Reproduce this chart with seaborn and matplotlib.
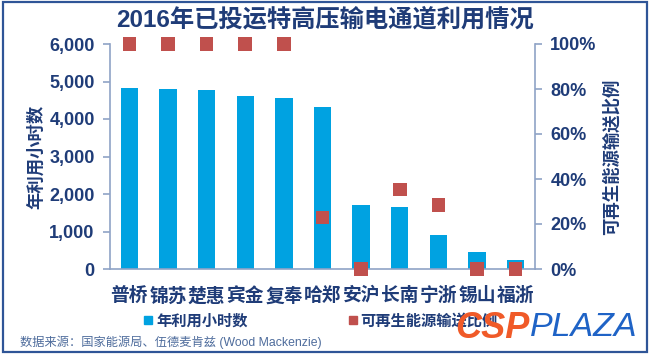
import numpy as np
import pandas as pd
import matplotlib
matplotlib.use("Agg")
import matplotlib.pyplot as plt
from matplotlib.lines import Line2D
from matplotlib.patches import Rectangle
from matplotlib.ticker import FuncFormatter, PercentFormatter
import seaborn as sns

# ---- data ----
categories = ['普桥', '锦苏', '楚惠', '宾金', '复奉', '哈郑', '安沪', '长南', '宁浙', '锡山', '福浙']
hours = [4830, 4800, 4770, 4620, 4550, 4310, 1700, 1660, 920, 460, 245]
renew_share = [1.00, 1.00, 1.00, 1.00, 1.00, 0.228, 0.0, 0.354, 0.284, 0.0, 0.0]
left_ticks = [0, 1000, 2000, 3000, 4000, 5000, 6000]
right_ticks = [0, 0.2, 0.4, 0.6, 0.8, 1.0]
title = '2016年已投运特高压输电通道利用情况'
left_label = '年利用小时数'
right_label = '可再生能源输送比例'
source = '数据来源：国家能源局、伍德麦肯兹 (Wood Mackenzie)'

df = pd.DataFrame({'cat': categories, 'hours': hours, 'share': renew_share})

sns.set_style('white')
plt.rcParams['font.family'] = ['Liberation Sans', 'Noto Sans CJK SC', 'DejaVu Sans']

NAVY = '#1F3C78'
SPINE = '#8FA3C6'
BAR = '#00A2E1'
RED = '#C0504D'

fig = plt.figure(figsize=(6.5, 3.56), dpi=100)
ax = fig.add_axes([110 / 650, 1 - 269 / 356, 425 / 650, 225 / 356])
ax2 = ax.twinx()

sns.barplot(data=df, x='cat', y='hours', ax=ax, color=BAR, width=0.45,
            saturation=1, edgecolor='none')
sns.scatterplot(data=df, x='cat', y='share', ax=ax2, marker='s', s=95,
                color=RED, edgecolor='none', clip_on=False, zorder=5, legend=False)

ax.set_xlim(-0.5, len(categories) - 0.5)
ax.set_ylim(0, 6000)
ax2.set_ylim(0, 1.0)
ax.set_yticks(left_ticks)
ax2.set_yticks(right_ticks)
ax.yaxis.set_major_formatter(FuncFormatter(lambda v, p: f'{int(v):,}'))
ax2.yaxis.set_major_formatter(PercentFormatter(1.0, decimals=0))

for a in (ax, ax2):
    for s in a.spines.values():
        s.set_visible(False)
ax.spines['left'].set_visible(True)
ax.spines['bottom'].set_visible(True)
ax2.spines['right'].set_visible(True)
for s in (ax.spines['left'], ax.spines['bottom'], ax2.spines['right']):
    s.set_color(SPINE)
    s.set_linewidth(1.2)

ax.set_xticks(np.arange(-0.5, len(categories), 1), minor=True)
ax.tick_params(axis='x', which='major', length=0, pad=13,
               labelsize=13.5, labelcolor=NAVY)
ax.tick_params(axis='x', which='minor', length=5, color=SPINE, width=1.2, direction='out')
ax.tick_params(axis='y', length=5, color=SPINE, width=1.2, direction='out',
               labelsize=13, labelcolor=NAVY, pad=6)
ax2.tick_params(axis='y', length=5, color=SPINE, width=1.2, direction='out',
                labelsize=13, labelcolor=NAVY, pad=6)
for lab in ax.get_xticklabels() + ax.get_yticklabels() + ax2.get_yticklabels():
    lab.set_fontweight('bold')

ax.set_xlabel('')
ax.set_ylabel(left_label, fontsize=12.5, fontweight='bold', color=NAVY, labelpad=4)
ax2.set_ylabel(right_label, fontsize=12.5, fontweight='bold', color=NAVY, labelpad=4)
ax.grid(False)
ax2.grid(False)

fig.text(325 / 650, 1 - 20 / 356, title, ha='center', va='center',
         fontsize=17.5, fontweight='bold', color=NAVY)

handles = [Line2D([], [], marker='s', linestyle='none', markersize=6, color=BAR),
           Line2D([], [], marker='s', linestyle='none', markersize=6, color=RED)]
leg = fig.legend(handles, [left_label, right_label], loc='center left',
                 bbox_to_anchor=(130 / 650, 1 - 321 / 356), ncol=2, frameon=False,
                 handlelength=0.6, handletextpad=0.2, columnspacing=6.6,
                 prop={'size': 11, 'weight': 'bold'})
for t in leg.get_texts():
    t.set_color(NAVY)

fig.text(20 / 650, 1 - 342 / 356, source, ha='left', va='center',
         fontsize=8.8, color='#4E6C9C')

# watermark logo
fig.text(455 / 650, 1 - 328 / 356, 'CSP', ha='left', va='center', fontsize=26,
         fontweight='bold', fontstyle='italic', color='#F05A28', zorder=10)
fig.text(530 / 650, 1 - 328 / 356, 'PLAZA', ha='left', va='center', fontsize=24.5,
         fontstyle='italic', color='#1F63C6', zorder=10)

fig.patches.append(Rectangle((0.004, 0.012), 0.992, 0.982, transform=fig.transFigure,
                             fill=False, edgecolor='#2F5597', linewidth=1.6))

fig.savefig('out.png', dpi=100)
